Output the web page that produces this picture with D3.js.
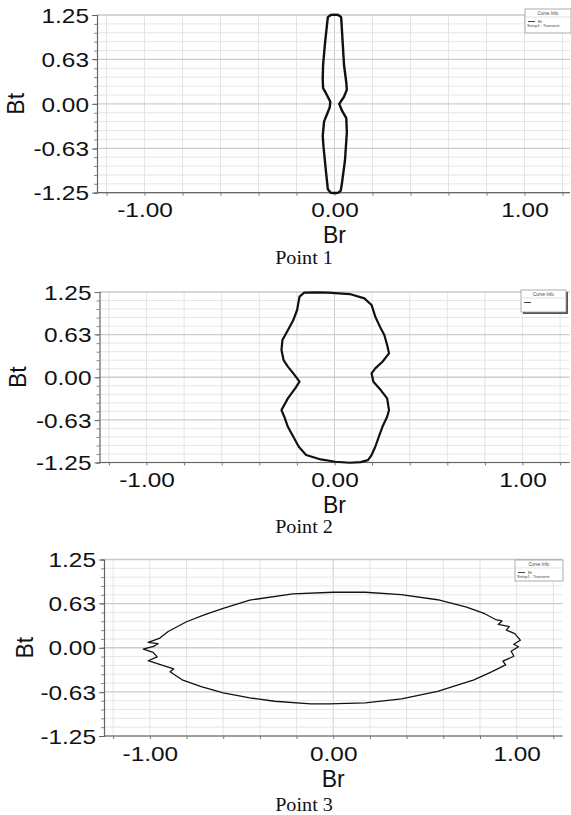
<!DOCTYPE html>
<html>
<head>
<meta charset="utf-8">
<script src="https://cdn.jsdelivr.net/npm/d3@7"></script>
<style>
  body { margin: 0; background: #fff; }
  svg { display: block; }
</style>
</head>
<body>
<svg width="571" height="815"></svg>
<script>
// tick labels shown on the axes
var brTicks = [-1.00, 0.00, 1.00];
var btTicks = [-1.25, -0.63, 0.00, 0.63, 1.25];

// Point 1 curve (Br, Bt)
var point1Br = [-0.02, 0.00, 0.02, 0.035, 0.04, 0.05, 0.062, 0.065, 0.05, 0.025, 0.04, 0.062, 0.065, 0.055, 0.04, 0.033, 0.02,
    0.00, -0.02, -0.035, -0.045, -0.058, -0.062, -0.055, -0.04, -0.025, -0.022, -0.045, -0.06, -0.062, -0.06, -0.05, -0.04, -0.035];
var point1Bt = [1.25, 1.255, 1.25, 1.22, 1.0, 0.55, 0.3, 0.2, 0.1, 0.0, -0.1, -0.2, -0.4, -0.8, -1.1, -1.22, -1.25,
    -1.255, -1.25, -1.2, -0.95, -0.6, -0.45, -0.25, -0.15, -0.05, 0.03, 0.15, 0.22, 0.35, 0.55, 0.85, 1.1, 1.22];

// Point 2 curve
var point2Br = [-0.161, -0.093, -0.035, 0.081, 0.159, 0.197, 0.217, 0.246, 0.265, 0.280, 0.290, 0.255, 0.217, 0.197, 0.207,
    0.246, 0.280, 0.290, 0.280, 0.255, 0.236, 0.217, 0.197, 0.178, 0.139, 0.081, 0.004, -0.073, -0.151, -0.190, -0.219,
    -0.248, -0.267, -0.282, -0.248, -0.209, -0.186, -0.219, -0.248, -0.271, -0.282, -0.277, -0.257, -0.238, -0.219, -0.199, -0.186];
var point2Bt = [1.24, 1.245, 1.24, 1.22, 1.157, 1.06, 0.888, 0.717, 0.619, 0.472, 0.35, 0.228, 0.13, 0.057, -0.065,
    -0.188, -0.31, -0.481, -0.579, -0.726, -0.872, -1.019, -1.141, -1.215, -1.244, -1.254, -1.239, -1.205, -1.141, -1.019, -0.872,
    -0.726, -0.579, -0.481, -0.31, -0.163, -0.065, 0.057, 0.155, 0.252, 0.399, 0.546, 0.644, 0.741, 0.839, 0.986, 1.182];

// Point 3 curve
var point3Br = [-0.90, -0.80, -0.70, -0.60, -0.455, -0.221, 0.0, 0.174, 0.37, 0.569, 0.727, 0.826, 0.885, 0.92, 0.90, 0.96,
    0.944, 0.99, 1.02, 0.984, 1.01, 0.97, 0.985, 0.925, 0.94, 0.866, 0.767, 0.569, 0.372, 0.174, -0.024, -0.123, -0.32, -0.455,
    -0.60, -0.72, -0.82, -0.89, -0.87, -0.93, -1.009, -0.96, -0.982, -1.036, -0.98, -0.955, -1.009, -0.945];
var point3Bt = [0.23, 0.368, 0.47, 0.557, 0.675, 0.763, 0.786, 0.786, 0.753, 0.68, 0.576, 0.482, 0.40, 0.38, 0.33, 0.30,
    0.25, 0.2, 0.107, 0.05, 0.014, -0.05, -0.12, -0.19, -0.243, -0.337, -0.454, -0.618, -0.725, -0.78, -0.796, -0.796, -0.758, -0.71,
    -0.64, -0.55, -0.46, -0.34, -0.30, -0.25, -0.184, -0.13, -0.066, -0.02, 0.02, 0.057, 0.076, 0.137];

var panels = [
    { br: point1Br, bt: point1Bt, caption: "Point 1", x0: 97, x1: 572, yTop: 15, yBot: 192.7,
      labelY: 217, titleY: 243, captionY: 264, btX: 16, lineW: 2.4, legend: [525, 9, 46, 24], legendFull: true, shadow: false },
    { br: point2Br, bt: point2Bt, caption: "Point 2", x0: 99.5, x1: 569.5, yTop: 292, yBot: 462.5,
      labelY: 487, titleY: 513, captionY: 533, btX: 18, lineW: 2.2, legend: [521, 290, 45, 22], legendFull: false, shadow: true },
    { br: point3Br, bt: point3Bt, caption: "Point 3", x0: 104, x1: 562.5, yTop: 559.5, yBot: 736,
      labelY: 761, titleY: 787, captionY: 811, btX: 25, lineW: 1.3, legend: [515, 560, 48, 21], legendFull: true, shadow: false }
];

var svg = d3.select('svg');
var sans = "'Liberation Sans', Arial, sans-serif";
var stretch = 1.22;

var gridX = d3.range(-12, 13, 2).map(function (d) { return d / 10; });
var gridY = d3.range(-10, 11).map(function (d) { return d * 0.125; });

panels.forEach(function (p) {
    var x = d3.scaleLinear().domain([-1.25, 1.25]).range([p.x0, p.x1]);
    var y = d3.scaleLinear().domain([-1.25, 1.25]).range([p.yBot, p.yTop]);
    var g = svg.append('g');
    var right = Math.min(p.x1, 570);

    // grid
    g.selectAll('.gx').data(gridX).enter().append('line')
        .attr('x1', function (d) { return x(d); })
        .attr('x2', function (d) { return x(d); })
        .attr('y1', y(1.25)).attr('y2', y(-1.25))
        .attr('stroke', function (d) { return Math.abs(d) < 1e-6 ? '#cfcfcf' : '#e4e4e4'; })
        .attr('stroke-width', 1);
    g.selectAll('.gy').data(gridY).enter().append('line')
        .attr('x1', x(-1.25)).attr('x2', right)
        .attr('y1', function (d) { return y(d); })
        .attr('y2', function (d) { return y(d); })
        .attr('stroke', function (d) {
            var k = Math.round(d / 0.125);
            if (Math.abs(d) > 1.2) return '#c8c8c8';
            return k % 5 === 0 ? '#cccccc' : '#e6e6e6';
        })
        .attr('stroke-width', function (d) { return Math.round(d / 0.125) % 5 === 0 ? 1.3 : 1; });

    // x axis
    var xAxis = d3.axisBottom(x)
        .tickValues(gridX)
        .tickSize(3)
        .tickFormat(function (d) {
            return brTicks.some(function (t) { return Math.abs(t - d) < 1e-6; }) ? d.toFixed(2) : '';
        });
    var xa = g.append('g').attr('transform', 'translate(0,' + p.yBot + ')').call(xAxis);
    xa.select('.domain').attr('stroke', '#666').attr('stroke-width', 1.2).attr('d', 'M' + x(-1.25) + ',0H' + right);
    xa.selectAll('.tick line').attr('stroke', '#777');
    xa.selectAll('.tick text')
        .attr('y', p.labelY - p.yBot).attr('dy', 0)
        .attr('transform', 'scale(' + stretch + ',1)')
        .style('font-family', sans).style('font-size', '20px').attr('fill', '#111');

    // y axis: minor ticks then labelled ones
    var ya = g.append('g').attr('transform', 'translate(' + x(-1.25) + ',0)')
        .call(d3.axisLeft(y).tickValues(gridY).tickSize(3).tickFormat(''));
    ya.select('.domain').attr('stroke', '#666').attr('stroke-width', 1.2);
    ya.selectAll('.tick line').attr('stroke', '#888');
    var yl = g.append('g').attr('transform', 'translate(' + x(-1.25) + ',0)')
        .call(d3.axisLeft(y).tickValues(btTicks).tickSize(5)
            .tickFormat(function (d) { return d.toFixed(2); }));
    yl.select('.domain').remove();
    yl.selectAll('.tick line').attr('stroke', '#666');
    yl.selectAll('.tick text')
        .attr('x', 0)
        .attr('transform', 'translate(-8,0) scale(' + stretch + ',1)')
        .attr('dy', '0.36em')
        .style('font-family', sans).style('font-size', '20px').attr('fill', '#111');

    // curve
    var pts = p.br.map(function (d, i) { return [d, p.bt[i]]; });
    var line = d3.line()
        .x(function (d) { return x(d[0]); })
        .y(function (d) { return y(d[1]); })
        .curve(d3.curveLinearClosed);
    g.append('path').datum(pts)
        .attr('d', line)
        .attr('fill', 'none')
        .attr('stroke', '#111')
        .attr('stroke-width', p.lineW)
        .attr('stroke-linejoin', 'round');

    // titles
    g.append('text')
        .attr('x', x(0)).attr('y', p.titleY)
        .attr('text-anchor', 'middle')
        .style('font-family', sans).style('font-size', '23px').attr('fill', '#111')
        .text('Br');
    g.append('text')
        .attr('transform', 'translate(' + (p.btX + 8) + ',' + y(0) + ') rotate(-90)')
        .attr('text-anchor', 'middle')
        .style('font-family', sans).style('font-size', '23px').attr('fill', '#111')
        .text('Bt');
    g.append('text')
        .attr('transform', 'translate(304,' + p.captionY + ') scale(1.12,1)')
        .attr('text-anchor', 'middle')
        .style('font-family', "'Liberation Serif', 'Times New Roman', serif")
        .style('font-size', '18px').attr('fill', '#111')
        .text(p.caption);

    // legend box
    var lb = p.legend;
    var leg = g.append('g').attr('transform', 'translate(' + lb[0] + ',' + lb[1] + ')');
    if (p.shadow) {
        leg.append('rect').attr('x', 2).attr('y', 2).attr('width', lb[2]).attr('height', lb[3]).attr('fill', '#555');
    }
    leg.append('rect').attr('width', lb[2]).attr('height', lb[3])
        .attr('fill', '#fff').attr('stroke', '#999').attr('stroke-width', 0.8);
    leg.append('text').attr('x', lb[2] / 2).attr('y', 6)
        .attr('text-anchor', 'middle')
        .style('font-family', sans).style('font-size', '4.5px').attr('fill', '#444')
        .text('Curve Info');
    leg.append('line').attr('x1', 1).attr('x2', lb[2] - 1).attr('y1', 8).attr('y2', 8)
        .attr('stroke', '#ccc').attr('stroke-width', 0.6);
    leg.append('line').attr('x1', 3).attr('x2', 10).attr('y1', 12.5).attr('y2', 12.5)
        .attr('stroke', '#444').attr('stroke-width', 1);
    if (p.legendFull) {
        leg.append('text').attr('x', 13).attr('y', 13.5)
            .style('font-family', sans).style('font-size', '4px').attr('fill', '#444').text('Bt');
        leg.append('text').attr('x', 2).attr('y', 18)
            .style('font-family', sans).style('font-size', '4px').attr('fill', '#444').text('Setup1 : Transient');
    }
});
</script>
</body>
</html>
